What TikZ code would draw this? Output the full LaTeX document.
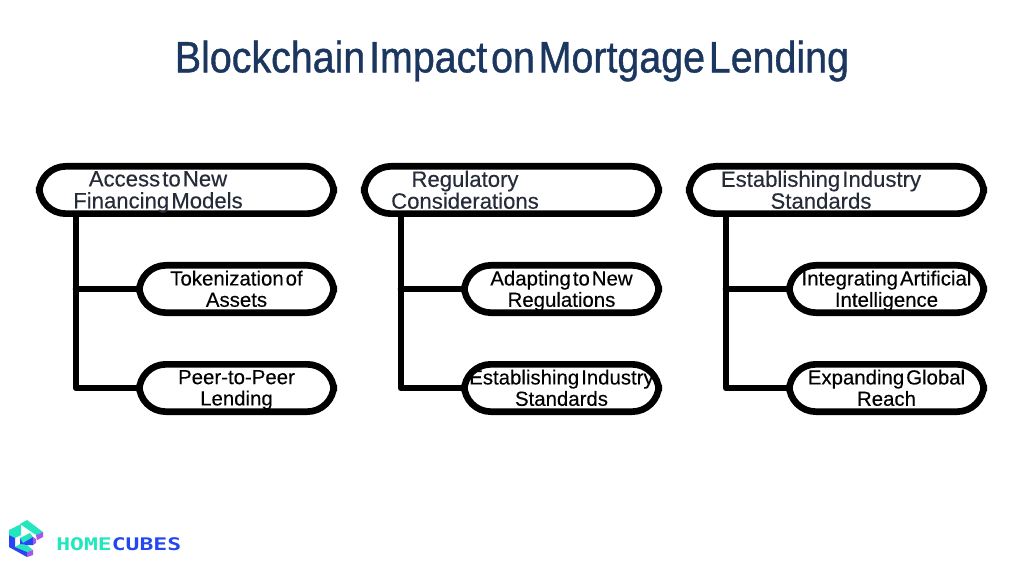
\documentclass[tikz,border=0pt]{standalone}
\usepackage{fontspec}
\setmainfont[WordSpace=0.35,FakeBold=0.25]{Liberation Sans}
\newfontfamily\titlefont[WordSpace=0.35,FakeStretch=0.895,FakeBold=0.9]{Liberation Sans}
\newfontfamily\logofont[FakeStretch=1.33]{DejaVu Sans Mono Bold}
\usetikzlibrary{positioning}
\definecolor{titleblue}{HTML}{1B365F}
\definecolor{inkgray}{HTML}{262B3A}
\definecolor{cubeteal}{HTML}{22E6BE}
\definecolor{cubeblue}{HTML}{2447F0}
\definecolor{cubeviolet}{HTML}{A855F0}
\tikzset{
    roottext/.style={align=center,inner sep=0pt,text=inkgray,
        font=\fontsize{16.6pt}{16.4pt}\selectfont,
        execute at begin node=\strut,execute at end node=\strut},
    leaftext/.style={roottext,text=black,font=\fontsize{15.3pt}{16pt}\selectfont},
    rootbox/.style={draw=black,line width=5pt,fill=white,rounded corners=20pt,
        minimum width=221pt,minimum height=35.5pt,inner sep=0pt},
    leafbox/.style={rootbox,minimum width=146pt},
    branch/.style={draw=black,line width=5pt,line cap=round,line join=round},
}
\begin{document}
\begin{tikzpicture}[x=0.75pt,y=-0.75pt]
    \useasboundingbox (0,0) rectangle (1024,577);
    \node[text=titleblue,font=\titlefont\fontsize{33pt}{35pt}\selectfont] (title) at (512,61) {Blockchain Impact on Mortgage Lending};
    % stems first, the root pills go over them
    \coordinate (stemA) at (76,190);
    \coordinate (stemB) at (401,190);
    \coordinate (stemC) at (726,190);
    % column 1
    \node[leafbox] (token) at (236.5,289) {};
    \node[leaftext] (tokentext) at ([yshift=-2.2pt]token) {Tokenization of\\Assets};
    \node[leafbox] (peer) at (236.5,388) {};
    \node[leaftext] (peertext) at ([yshift=-2.2pt]peer) {Peer-to-Peer\\Lending};
    \draw[branch] (stemA) |- (peer.west);
    \draw[branch] (token.west -| stemA) -- (token.west);
    \node[rootbox] (access) at (186.5,190) {};
    \node[roottext] (accesstext) at (158,193) {Access to New\\Financing Models};
    % column 2
    \node[leafbox] (adapt) at (561.5,289) {};
    \node[leaftext] (adapttext) at ([yshift=-2.2pt]adapt) {Adapting to New\\Regulations};
    \node[leafbox] (stand) at (561.5,388) {};
    \node[leaftext] (standtext) at ([yshift=-2.2pt]stand) {Establishing Industry\\Standards};
    \draw[branch] (stemB) |- (stand.west);
    \draw[branch] (adapt.west -| stemB) -- (adapt.west);
    \node[rootbox] (regul) at (511.5,190) {};
    \node[roottext] (regultext) at (465,193) {Regulatory\\Considerations};
    % column 3
    \node[leafbox] (integ) at (886.5,289) {};
    \node[leaftext] (integtext) at ([yshift=-2.2pt]integ) {Integrating Artificial\\Intelligence};
    \node[leafbox] (expand) at (886.5,388) {};
    \node[leaftext] (expandtext) at ([yshift=-2.2pt]expand) {Expanding Global\\Reach};
    \draw[branch] (stemC) |- (expand.west);
    \draw[branch] (integ.west -| stemC) -- (integ.west);
    \node[rootbox] (indus) at (836.5,190) {};
    \node[roottext] (industext) at (821,193) {Establishing Industry\\Standards};
    % logo
    \fill[cubeteal] (20,524) -- (27,520) -- (43,532) -- (36,535) -- cycle;
    \fill[cubeteal] (9,530) -- (21,524) -- (21,535) -- (15,538) -- (9,535) -- cycle;
    \fill[cubeteal] (20,538) -- (30,533) -- (33,537) -- (23,543) -- cycle;
    \fill[cubeteal] (15,547) -- (20,544) -- (27,545) -- (33,550) -- (27,552) -- cycle;
    \fill[cubeblue] (9,535) -- (15,538) -- (15,547) -- (27,552) -- (27,557) -- (9,547) -- cycle;
    \fill[cubeblue] (20,538) -- (23,543) -- (33,537) -- (33,545) -- (27,545) -- (20,544) -- cycle;
    \fill[cubeviolet] (36,535) -- (43,532) -- (43,537) -- (37,540) -- cycle;
    \fill[cubeviolet] (33,537) -- (36,539) -- (36,543) -- (33,545) -- cycle;
    \fill[cubeviolet] (27,552) -- (33,550) -- (33,555) -- (27,557) -- cycle;
    \node[inner sep=0pt,anchor=west,font=\logofont\fontsize{13pt}{13pt}\selectfont] (brand) at (56,544)
        {\textcolor{cubeteal}{HOME}\textcolor{cubeblue}{CUBES}};
\end{tikzpicture}
\end{document}
